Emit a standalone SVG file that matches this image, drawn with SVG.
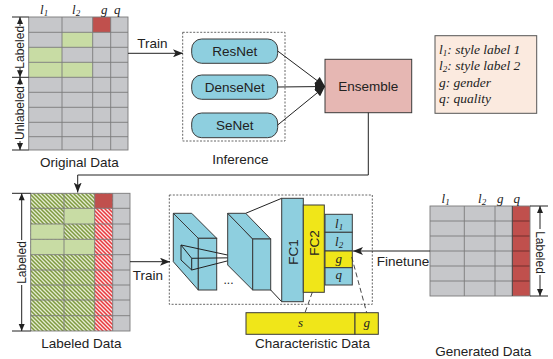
<svg xmlns="http://www.w3.org/2000/svg" width="553" height="359" viewBox="0 0 553 359">
  <style>
    .sans { font-family: "Liberation Sans", Arial, sans-serif; fill: #222; }
    .cap { font-size: 13.5px; text-anchor: middle; }
    .side { font-size: 12px; text-anchor: middle; }
    .ital { font-family: "Liberation Serif", "Times New Roman", serif; font-style: italic; fill: #222; }
    .cell { fill: #c6c7ca; }
    .grid { stroke: #7a7a7a; stroke-width: 0.9; fill: none; }
    .green { fill: #c8dca4; }
    .red { fill: #c0504d; }
    .ln { stroke: #222; stroke-width: 1; fill: none; }
    .blue { fill: #8ecfdf; stroke: #3a3a3a; stroke-width: 1; }
    .yel { fill: #f0e619; stroke: #3a3a3a; stroke-width: 1; }
    .dot { fill: none; stroke: #555; stroke-width: 0.9; stroke-dasharray: 2,1.5; }
    .dash { stroke: #333; stroke-width: 0.9; stroke-dasharray: 5,3; fill: none; }
  </style>
  <defs>
    <marker id="arr" viewBox="0 0 10 8" refX="10" refY="4" markerWidth="10" markerHeight="8" markerUnits="userSpaceOnUse" orient="auto">
      <path d="M0,0 L10,4 L0,8 L2.5,4 Z" fill="#222"/>
    </marker>
    <marker id="tip" viewBox="0 0 10 9" refX="10" refY="4.5" markerWidth="11" markerHeight="9" markerUnits="userSpaceOnUse" orient="auto">
      <path d="M0,0 L10,4.5 L0,9 Z" fill="#222"/>
    </marker>
    <pattern id="hatchG" patternUnits="userSpaceOnUse" width="4" height="4">
      <rect width="4" height="4" fill="#e4ecd0"/>
      <path d="M-1,-1 L5,5 M-1,3 L1,5 M3,-1 L5,1" stroke="#7f9a40" stroke-width="1.5"/>
    </pattern>
    <pattern id="hatchR" patternUnits="userSpaceOnUse" width="4" height="4">
      <rect width="4" height="4" fill="#fbe4e4"/>
      <path d="M-1,-1 L5,5 M-1,3 L1,5 M3,-1 L5,1" stroke="#e8383c" stroke-width="1.5"/>
    </pattern>
  </defs>

  <!-- Original data table -->
  <g id="original-data">
    <rect class="cell" x="28.7" y="17" width="99.3" height="133"/>
    <rect class="red" x="92.7" y="17" width="18" height="15.3"/>
    <rect class="green" x="62" y="32.3" width="30.7" height="15"/>
    <rect class="green" x="28.7" y="47.3" width="33.3" height="15"/>
    <rect class="green" x="28.7" y="62.3" width="64" height="15"/>
    <path class="grid" d="M62,17V150 M92.7,17V150 M110.7,17V150 M28.7,32.3H128 M28.7,47.3H128 M28.7,62.3H128 M28.7,77.3H128 M28.7,92.3H128 M28.7,107.3H128 M28.7,122.3H128 M28.7,136.7H128"/>
    <rect x="28.7" y="17" width="99.3" height="133" fill="none" stroke="#7a7a7a" stroke-width="0.9"/>
    <text class="ital" font-size="13" x="40" y="14">l<tspan font-size="9" dy="2">1</tspan></text>
    <text class="ital" font-size="13" x="72" y="14">l<tspan font-size="9" dy="2">2</tspan></text>
    <text class="ital" font-size="13" x="101" y="14">g</text>
    <text class="ital" font-size="13" x="114" y="14">q</text>
    <!-- side brackets -->
    <path class="ln" d="M12,17H28.7 M12,77.3H28.7 M12,150H28.7 M20,17V26 M20,68V77.3 M20,77.3V85 M20,141V150" />
    <path d="M20,17 L17,24 L23,24 Z M20,77.3 L17,70.3 L23,70.3 Z M20,77.3 L17,84.3 L23,84.3 Z M20,150 L17,143 L23,143 Z" fill="#222"/>
    <text class="sans side" transform="translate(24.3,47.3) rotate(-90)">Labeled</text>
    <text class="sans side" transform="translate(24.3,113) rotate(-90)">Unlabeled</text>
    <text class="sans cap" x="79.3" y="167">Original Data</text>
  </g>

  <!-- Inference models -->
  <g id="inference">
    <rect class="dot" x="182.7" y="32.3" width="102.3" height="108.7"/>
    <text class="sans cap" x="240.5" y="164">Inference</text>
  </g>
  <g id="resnet">
    <rect class="blue" x="191.7" y="39" width="86" height="24.3" rx="10"/>
    <text class="sans cap" font-size="14" x="234.7" y="56">ResNet</text>
  </g>
  <g id="densenet">
    <rect class="blue" x="191.7" y="75" width="86" height="24.3" rx="10"/>
    <text class="sans cap" font-size="14" x="234.7" y="92">DenseNet</text>
  </g>
  <g id="senet">
    <rect class="blue" x="191.7" y="113" width="86" height="24.7" rx="10"/>
    <text class="sans cap" font-size="14" x="234.7" y="130.3">SeNet</text>
  </g>

  <g id="ensemble">
    <rect x="325" y="59.3" width="86.7" height="53.4" fill="#e6b7b3" stroke="#3a3a3a" stroke-width="1"/>
    <text class="sans cap" font-size="14" x="368.3" y="91">Ensemble</text>
  </g>

  <!-- Legend -->
  <g id="legend">
    <rect x="435" y="35.7" width="101.7" height="77.6" fill="#fbeadf" stroke="#555" stroke-width="1"/>
    <text class="ital" font-size="13.5" x="439" y="53.5">l<tspan font-size="9" dy="2">1</tspan><tspan dy="-2">: style label 1</tspan></text>
    <text class="ital" font-size="13.5" x="439" y="70">l<tspan font-size="9" dy="2">2</tspan><tspan dy="-2">: style label 2</tspan></text>
    <text class="ital" font-size="13.5" x="439" y="86.5">g: gender</text>
    <text class="ital" font-size="13.5" x="439" y="103">q: quality</text>
  </g>

  <!-- Labeled data table -->
  <g id="labeled-data">
    <rect class="cell" x="30.7" y="193.3" width="99.3" height="137.7"/>
    <rect x="30.7" y="193.3" width="64" height="137.7" fill="url(#hatchG)"/>
    <rect class="green" x="64" y="208.3" width="30.7" height="15.7"/>
    <rect class="green" x="30.7" y="224" width="33.3" height="15.3"/>
    <rect class="green" x="30.7" y="239.3" width="64" height="15.4"/>
    <rect x="94.7" y="193.3" width="18" height="137.7" fill="url(#hatchR)"/>
    <rect class="red" x="94.7" y="193.3" width="18" height="15"/>
    <path class="grid" d="M64,193.3V331 M94.7,193.3V331 M112.7,193.3V331 M30.7,208.3H130 M30.7,224H130 M30.7,239.3H130 M30.7,254.7H130 M30.7,270H130 M30.7,285H130 M30.7,300H130 M30.7,315.7H130"/>
    <rect x="30.7" y="193.3" width="99.3" height="137.7" fill="none" stroke="#7a7a7a" stroke-width="0.9"/>
    <path class="ln" d="M12,193.3H30.7 M12,331H30.7 M21.7,193.3V240 M21.7,285V331"/>
    <path d="M21.7,193.3 L18.7,200.3 L24.7,200.3 Z M21.7,331 L18.7,324 L24.7,324 Z" fill="#222"/>
    <text class="sans side" transform="translate(26,262.5) rotate(-90)">Labeled</text>
    <text class="sans cap" x="81.3" y="348">Labeled Data</text>
  </g>

  <!-- Network: conv blocks, FC layers, heads -->
  <g id="network">
    <rect class="dot" x="169.3" y="195" width="203" height="109.3"/>
    <!-- first conv block -->
    <path class="blue" d="M173.3,213.3 L198.3,238.3 L198.3,290 L173.3,261.7 Z"/>
    <path class="blue" d="M173.3,213.3 L191.7,213.3 L216.7,238.3 L198.3,238.3 Z"/>
    <rect class="blue" x="198.3" y="238.3" width="18.4" height="51.7"/>
    <!-- receptive field -->
    <path class="ln" d="M181,245 L181,260 L191.7,270 L191.7,258.3 Z M181,245 L240,257.7 M191.7,258.3 L240,257.7 M191.7,270 L240,257.7"/>
    <!-- second conv block -->
    <path class="blue" d="M227.7,213.3 L252.7,239 L252.7,290 L227.7,265 Z"/>
    <path class="blue" d="M227.7,213.3 L245.7,213.3 L270.7,239 L252.7,239 Z"/>
    <rect class="blue" x="252.7" y="239" width="18" height="51"/>
    <text class="sans" font-size="12" x="228.5" y="284" text-anchor="middle">...</text>
    <path class="ln" d="M245.7,213.3 L281.7,198.3 M270.7,290 L281.7,301.7"/>
  </g>
  <g id="fc1">
    <rect class="blue" x="281.7" y="198.3" width="21.6" height="103.4"/>
    <text class="sans cap" font-size="14" transform="translate(297.5,252) rotate(-90)">FC1</text>
  </g>
  <g id="fc2">
    <rect class="yel" x="303.3" y="205" width="21" height="87.3"/>
    <text class="sans cap" font-size="14" transform="translate(319,243) rotate(-90)">FC2</text>
  </g>
  <g id="heads">
    <rect class="blue" x="325" y="214.3" width="27.3" height="18"/>
    <rect class="blue" x="325" y="232.3" width="27.3" height="18.7"/>
    <rect class="yel" x="325" y="251" width="27.3" height="16.7"/>
    <rect class="blue" x="325" y="267.7" width="27.3" height="17.3"/>
    <text class="ital" font-size="13" x="335" y="227.5">l<tspan font-size="9" dy="2">1</tspan></text>
    <text class="ital" font-size="13" x="335" y="245.5">l<tspan font-size="9" dy="2">2</tspan></text>
    <text class="ital" font-size="13" x="338.7" y="262.5" text-anchor="middle">g</text>
    <text class="ital" font-size="13" x="338.7" y="279" text-anchor="middle">q</text>
  </g>

  <!-- Characteristic data bar -->
  <g id="characteristic-data">
    <rect class="yel" x="246" y="312.7" width="109" height="21.6"/>
    <rect class="yel" x="355" y="312.7" width="23.3" height="21.6"/>
    <text class="ital" font-size="13" x="300.5" y="327" text-anchor="middle">s</text>
    <text class="ital" font-size="13" x="366.7" y="327" text-anchor="middle">g</text>
    <text class="sans cap" x="312.5" y="348">Characteristic Data</text>
  </g>

  <!-- Generated data table -->
  <g id="generated-data">
    <rect class="cell" x="430" y="206" width="100" height="90"/>
    <rect class="red" x="512.3" y="206" width="17.7" height="90"/>
    <path class="grid" d="M464.3,206V296 M495,206V296 M430,221H512.3 M430,236H512.3 M430,251H512.3 M430,266H512.3 M430,281H512.3"/>
    <path d="M512.3,221H530 M512.3,236H530 M512.3,251H530 M512.3,266H530 M512.3,281H530" stroke="#6a2a28" stroke-width="0.9"/>
    <rect x="430" y="206" width="100" height="90" fill="none" stroke="#7a7a7a" stroke-width="0.9"/>
    <path d="M512.3,206V296" stroke="#444" stroke-width="1"/>
    <text class="ital" font-size="13" x="441.5" y="203">l<tspan font-size="9" dy="2">1</tspan></text>
    <text class="ital" font-size="13" x="478" y="203">l<tspan font-size="9" dy="2">2</tspan></text>
    <text class="ital" font-size="13" x="497" y="203">g</text>
    <text class="ital" font-size="13" x="513.5" y="203">q</text>
    <path class="ln" d="M530,206H548 M530,296H548 M540,206V229 M540,275V296"/>
    <path d="M540,206 L537,213 L543,213 Z M540,296 L537,289 L543,289 Z" fill="#222"/>
    <text class="sans side" transform="translate(535.7,252.5) rotate(90)">Labeled</text>
    <text class="sans cap" x="483.3" y="356">Generated Data</text>
  </g>

  <!-- Connectors -->
  <g id="connectors">
    <path class="ln" d="M128,53.3 H183" marker-end="url(#arr)"/>
    <text class="sans cap" x="152.5" y="48.3">Train</text>
    <path class="ln" d="M277.7,51 L325,86.5" marker-end="url(#tip)"/>
    <path class="ln" d="M277.7,87 L325,86.5" marker-end="url(#tip)"/>
    <path class="ln" d="M277.7,125 L325,86.5" marker-end="url(#tip)"/>
    <path class="ln" d="M368.3,112.7 V175 H77.7 V192.5" marker-end="url(#arr)"/>
    <path class="ln" d="M130,261.7 H170" marker-end="url(#arr)"/>
    <text class="sans cap" x="148" y="279.5">Train</text>
    <path class="ln" d="M430,251 H353" marker-end="url(#arr)"/>
    <text class="sans cap" x="403" y="266">Finetune</text>
    <path class="dash" d="M312.3,292.3 L305,312.7 M351.7,257 L366.7,312.7"/>
  </g>
</svg>
